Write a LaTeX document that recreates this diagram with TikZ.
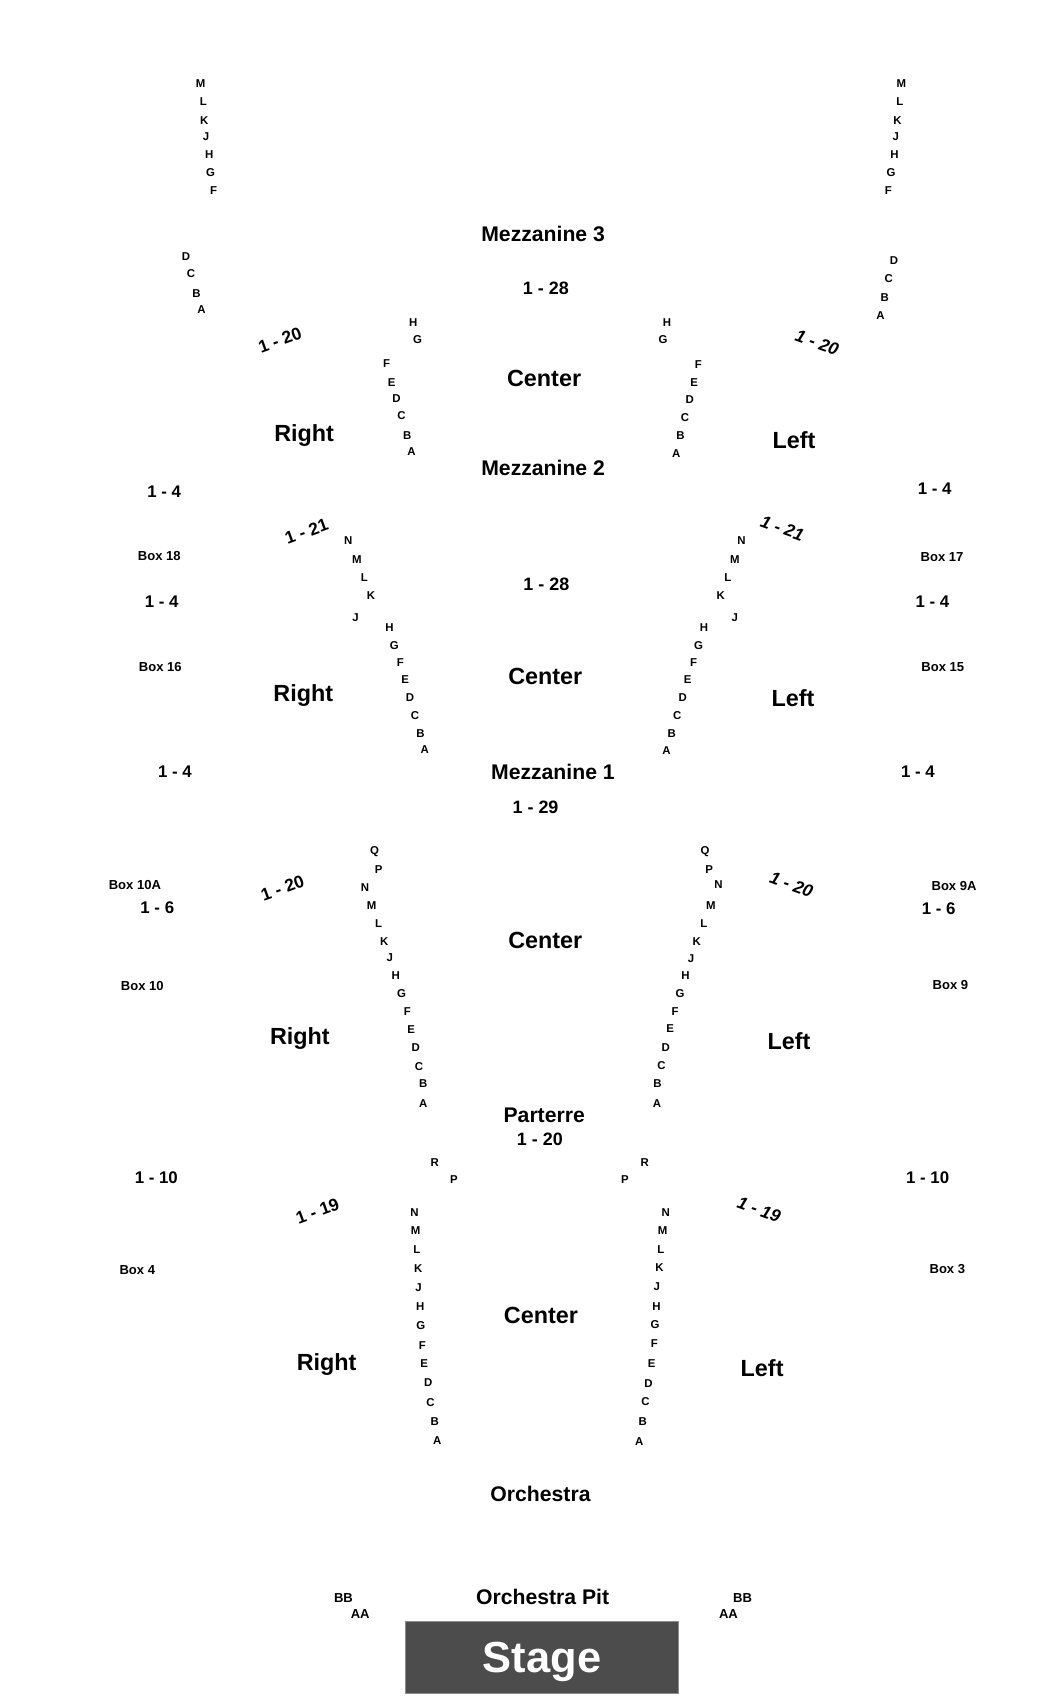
\documentclass[tikz,border=0pt]{standalone}
\usepackage{fontspec}
\setmainfont{Liberation Sans}
\begin{document}
\begin{tikzpicture}[x=1pt,y=-1pt,
  every node/.style={inner sep=0pt,outer sep=0pt},
  rowlbl/.style={font=\bfseries\fontsize{10.5}{12}\selectfont},
  boxlbl/.style={font=\bfseries\fontsize{12}{14}\selectfont},
  sidenum/.style={font=\bfseries\fontsize{15.5}{18}\selectfont},
  midnum/.style={font=\bfseries\fontsize{16.5}{19}\selectfont},
  level/.style={font=\bfseries\fontsize{19.5}{22}\selectfont},
  section/.style={font=\bfseries\fontsize{21.5}{24}\selectfont},
  rotleft/.style={font=\bfseries\fontsize{16}{18}\selectfont,rotate=20},
  rotright/.style={font=\bfseries\itshape\fontsize{16}{18}\selectfont,rotate=-20},
  stagebox/.style={fill=black!70,draw=black!45,line width=0.6pt,minimum width=251pt,minimum height=66pt,
     text=white,text depth=0pt,font=\bfseries\fontsize{40}{44}\selectfont}
]
\useasboundingbox (0,0) rectangle (966.6,1565);

% ---------- Mezzanine 3 ----------
\foreach \t/\x/\y [count=\i] in {M/184.7/77.3,L/187.1/93.9,K/188/111,J/189.6/125.5,H/192.6/142.4,G/193.9/159.2,F/196.7/175.8,
  D/171.2/236.5,C/175.8/252.2,B/181/270,A/185.6/284.7}
  \node[rowlbl] (tl\i) at (\x,\y) {\t};
\foreach \t/\x/\y [count=\i] in {M/829.8/77.3,L/828.3/93.9,K/826.1/111,J/824.6/125.5,H/823.4/142.4,G/820.3/159.2,F/817.8/175.8,
  D/823/239.9,C/818.1/256.5,B/814.5/273.6,A/810.5/290.5}
  \node[rowlbl] (tr\i) at (\x,\y) {\t};
\foreach \t/\x/\y [count=\i] in {H/380.4/297,G/384.5/313,F/355.9/334.4,E/360.5/352.2,D/365.1/367.2,C/369.7/382.8,B/374.9/400.6,A/378.9/415.7}
  \node[rowlbl] (mtl\i) at (\x,\y) {\t};
\foreach \t/\x/\y [count=\i] in {H/614.1/296.6,G/610.5/313,F/643/336,E/639/352.2,D/635/368,C/630.5/384,B/626.5/401,A/622.5/417.5}
  \node[rowlbl] (mtr\i) at (\x,\y) {\t};

\node[level] (mezz3) at (500,215.4) {Mezzanine 3};
\node[midnum] (m3seats) at (502.5,265.3) {1 - 28};
\node[rotleft] (m3rseats) at (257.7,312.9) {1 - 20};
\node[rotright] (m3lseats) at (752.2,315.4) {1 - 20};
\node[section] (m3center) at (500.9,348.8) {Center};
\node[section] (m3right) at (280,401) {Right};
\node[section] (m3left) at (731,405) {Left};

% ---------- Mezzanine 2 ----------
\node[level] (mezz2) at (500,431) {Mezzanine 2};
\node[sidenum] (b18n) at (151.2,452.5) {1 - 4};
\node[sidenum] (b17n) at (860.5,450.3) {1 - 4};
\node[rotleft] (m2rseats) at (282.2,489.3) {1 - 21};
\node[rotright] (m2lseats) at (720.3,486.2) {1 - 21};
\foreach \t/\x/\y [count=\i] in {N/320.6/497.6,M/328.5/515.5,L/335.5/531.5,K/341.5/548,J/327.3/568.4,H/358.5/578,G/363/594,F/368.5/610,E/373/626,D/377.5/642.5,C/382/659,B/387/675,A/391.1/690.2}
  \node[rowlbl] (m2l\i) at (\x,\y) {\t};
\foreach \t/\x/\y [count=\i] in {N/682.6/497.6,M/676.5/515.5,L/670/531.5,K/663.5/548,J/676.4/568.4,H/648/578,G/643/594,F/638.5/610,E/633/626,D/628.5/642.5,C/623.5/659,B/618.5/675,A/613.5/690.9}
  \node[rowlbl] (m2r\i) at (\x,\y) {\t};
\node[boxlbl] (box18) at (146.6,512.3) {Box 18};
\node[boxlbl] (box17) at (867.2,513.2) {Box 17};
\node[sidenum] (b16n) at (148.8,553.7) {1 - 4};
\node[sidenum] (b15n) at (858.3,553.7) {1 - 4};
\node[midnum] (m2seats) at (503,538) {1 - 28};
\node[boxlbl] (box16) at (147.6,614.1) {Box 16};
\node[boxlbl] (box15) at (867.9,614.5) {Box 15};
\node[section] (m2center) at (502,623) {Center};
\node[section] (m2right) at (279.2,640) {Right};
\node[section] (m2left) at (730.1,643) {Left};

% ---------- Mezzanine 1 ----------
\node[sidenum] (m1ln) at (161,710.2) {1 - 4};
\node[sidenum] (m1rn) at (845.1,710.2) {1 - 4};
\node[level] (mezz1) at (509,711) {Mezzanine 1};
\node[midnum] (m1seats) at (493,743) {1 - 29};
\foreach \t/\x/\y [count=\i] in {Q/344.8/783.8,P/348.5/800.7,N/335.9/817.5,M/342/833.8,L/348.5/850.6,K/353.7/867.2,J/358.9/881.9,H/364.4/898.2,G/369.7/914.8,F/374.9/931,E/378.5/947.9,D/382.8/964.8,C/385.6/981.7,B/389.6/997.6,A/389.6/1016.3}
  \node[rowlbl] (m1l\i) at (\x,\y) {\t};
\foreach \t/\x/\y [count=\i] in {Q/649.1/783.8,P/652.8/800.7,N/661.4/814.7,M/654.3/833.8,L/647.9/850.6,K/641.4/866.6,J/636.2/882.6,H/631/898.2,G/626.1/914.8,F/621.5/931.6,E/616.9/947.3,D/612.9/964.5,C/608.9/981.3,B/605.3/997.9,A/604.9/1016.3}
  \node[rowlbl] (m1r\i) at (\x,\y) {\t};
\node[boxlbl] (box10a) at (124.2,815.1) {Box 10A};
\node[boxlbl] (box9a) at (878.3,816) {Box 9A};
\node[sidenum] (b10an) at (144.8,835.9) {1 - 6};
\node[sidenum] (b9an) at (864.2,836.5) {1 - 6};
\node[rotleft] (m1rseats) at (260.1,817.5) {1 - 20};
\node[rotright] (m1lseats) at (728.6,814.5) {1 - 20};
\node[section] (m1center) at (502,866) {Center};
\node[boxlbl] (box10) at (131,907.4) {Box 10};
\node[boxlbl] (box9) at (874.9,906.5) {Box 9};
\node[section] (m1right) at (276.1,956) {Right};
\node[section] (m1left) at (726.4,958.5) {Left};

% ---------- Parterre ----------
\node[level] (parterre) at (501,1027) {Parterre};
\node[midnum] (pseats) at (497,1049) {1 - 20};
\node[rowlbl] (pRl) at (400.3,1070.6) {R};
\node[rowlbl] (pPl) at (417.8,1086) {P};
\node[rowlbl] (pRr) at (593.6,1070.6) {R};
\node[rowlbl] (pPr) at (575.2,1086) {P};
\node[sidenum] (b4n) at (143.9,1084.4) {1 - 10};
\node[sidenum] (b3n) at (854,1084.4) {1 - 10};
\node[rotleft] (orseats) at (292.3,1115.1) {1 - 19};
\node[rotright] (olseats) at (698.8,1113.6) {1 - 19};
\foreach \t/\x/\y [count=\i] in {N/381.6/1116,M/382.5/1132.6,L/383.8/1150.4,K/385/1167.9,J/385.3/1185.3,H/386.8/1202.5,G/387.4/1220,F/388.7/1238.4,E/390.5/1255.3,D/394.2/1273.1,C/396.3/1291.2,B/400.3/1309,A/402.5/1326.2}
  \node[rowlbl] (ol\i) at (\x,\y) {\t};
\foreach \t/\x/\y [count=\i] in {N/612.9/1116,M/609.9/1132.6,L/608.3/1150.4,K/607.1/1167.3,J/604.6/1184.1,H/604.4/1202.5,G/603.1/1219.4,F/602.5/1237.2,E/600/1255.3,D/597/1273.7,C/594.2/1290.5,B/591.8/1308.4,A/588.4/1326.8}
  \node[rowlbl] (or\i) at (\x,\y) {\t};
\node[boxlbl] (box4) at (126.4,1168.8) {Box 4};
\node[boxlbl] (box3) at (872.1,1168.2) {Box 3};
\node[section] (ocenter) at (498,1211) {Center};
\node[section] (oright) at (300.7,1256) {Right};
\node[section] (oleft) at (701.6,1259.5) {Left};

% ---------- Orchestra / Pit / Stage ----------
\node[level] (orch) at (497.6,1375) {Orchestra};
\node[level] (pit) at (499.6,1470.5) {Orchestra Pit};
\node[boxlbl] (bbl) at (316.2,1471) {BB};
\node[boxlbl] (aal) at (331.6,1486) {AA};
\node[boxlbl] (bbr) at (683.6,1471) {BB};
\node[boxlbl] (aar) at (670.6,1486) {AA};
\node[stagebox] (stage) at (499,1526) {Stage};
\end{tikzpicture}
\end{document}
